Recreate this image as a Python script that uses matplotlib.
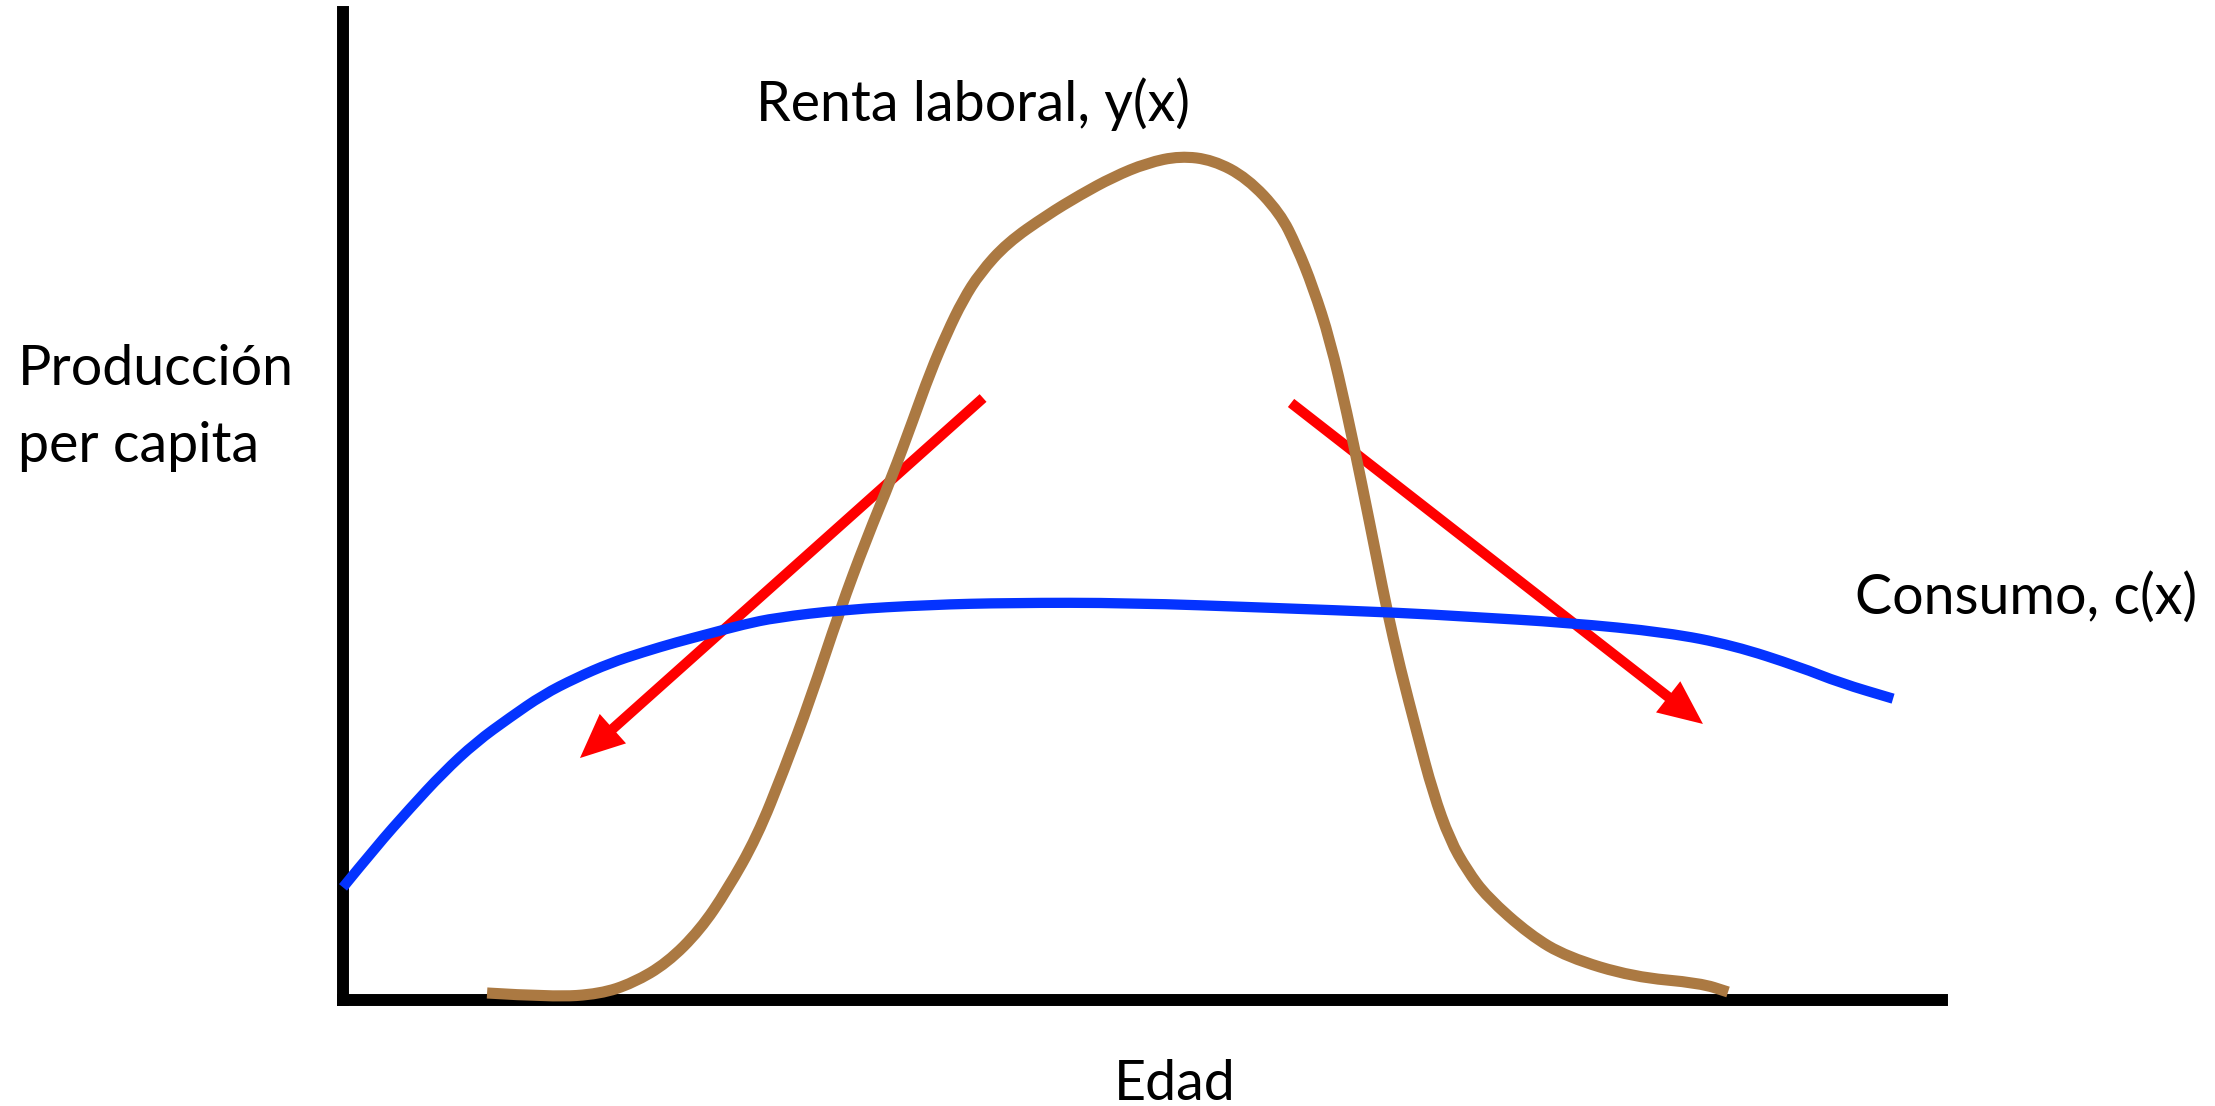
import matplotlib
matplotlib.use("Agg")
import matplotlib.pyplot as plt
from matplotlib.path import Path
from matplotlib.patches import PathPatch

# ---- data (in chart units: age 0-100, output 0-100)
consumo_x = [0.0, 2.06, 4.19, 6.25, 8.32, 10.44, 12.51, 14.57, 16.70, 18.76, 20.83,
             22.95, 25.02, 27.08, 31.27, 36.71, 41.71, 49.22, 57.97, 66.10, 70.29,
             76.55, 82.80, 86.93, 91.12, 93.62, 96.94]
consumo_y = [11.4, 15.5, 19.4, 23.0, 26.1, 28.6, 30.9, 32.6, 34.1, 35.2, 36.2,
             37.1, 38.0, 38.7, 39.5, 40.0, 40.2, 40.2, 39.7, 39.2, 38.8,
             38.2, 37.2, 35.9, 33.7, 32.1, 30.5]

renta_x = [9.01, 13.13, 16.07, 18.14, 20.26, 22.33, 24.02, 25.89, 27.58, 29.21, 31.08,
           32.71, 34.33, 35.65, 36.71, 37.77, 38.77, 39.84, 41.53, 44.03, 46.09,
           48.16, 50.28, 52.35, 54.41, 56.54, 58.60, 59.66, 60.66, 61.73, 62.79,
           63.73, 64.67, 65.29, 66.10, 67.17, 68.17, 69.23, 70.29, 71.54, 74.23,
           76.55, 80.68, 84.87, 86.62]
renta_y = [0.71, 0.30, 0.61, 1.72, 3.74, 7.09, 11.13, 16.50, 23.28, 30.36, 39.47,
           46.56, 52.94, 58.70, 63.46, 67.51, 70.85, 73.58, 76.62, 79.45, 81.48,
           83.30, 84.72, 85.43, 85.02, 83.20, 79.66, 76.21, 72.17, 66.80, 59.41,
           52.13, 44.53, 39.47, 33.70, 27.02, 20.95, 16.19, 13.16, 10.43, 6.58,
           4.35, 2.33, 1.72, 0.81]

# arrows: (start_x, start_y, end_x, end_y)
arrow_left = (40.03, 60.93, 14.82, 24.49)
arrow_right = (59.29, 60.43, 85.05, 27.94)

label_renta = "Renta laboral, y(x)"
label_consumo = "Consumo, c(x)"
label_y = ["Producción", "per capita"]
label_x = "Edad"


def smooth_path(xs, ys):
    """Quadratic-Bezier path through the read points (drawing only)."""
    pts = list(zip(xs, ys))
    verts = [pts[0]]
    codes = [Path.MOVETO]
    for i in range(1, len(pts) - 1):
        mid = ((pts[i][0] + pts[i + 1][0]) / 2, (pts[i][1] + pts[i + 1][1]) / 2)
        verts += [pts[i], mid]
        codes += [Path.CURVE3, Path.CURVE3]
    verts.append(pts[-1])
    codes.append(Path.LINETO)
    return Path(verts, codes)


# ---- figure
W, H = 2215, 1106
fig = plt.figure(figsize=(W / 100, H / 100), dpi=100)
fig.patch.set_facecolor("white")

left_px, right_px, bottom_px, top_px = 343, 1942, 1000, 12
ax = fig.add_axes([left_px / W, (H - bottom_px) / H,
                   (right_px - left_px) / W, (bottom_px - top_px) / H])
ax.set_xlim(0, 100)
ax.set_ylim(0, 100)
ax.set_xticks([])
ax.set_yticks([])
for s in ("top", "right"):
    ax.spines[s].set_visible(False)
for s in ("left", "bottom"):
    ax.spines[s].set_linewidth(8.6)
    ax.spines[s].set_color("black")
ax.spines["left"].set_capstyle("projecting")
ax.patch.set_alpha(0)

red = "#FF0000"
for (x0, y0, x1, y1) in (arrow_left, arrow_right):
    ax.annotate("", xy=(x1, y1), xytext=(x0, y0),
                arrowprops=dict(arrowstyle="-|>,head_length=1.9,head_width=0.85",
                                color=red, lw=7.4, shrinkA=0, shrinkB=0,
                                mutation_scale=10, capstyle="butt", joinstyle="miter"),
                zorder=2)

ax.add_patch(PathPatch(smooth_path(renta_x, renta_y), fill=False, edgecolor="#AB7942",
                       lw=8.0, capstyle="butt", joinstyle="round", zorder=3, clip_on=False))
ax.add_patch(PathPatch(smooth_path(consumo_x, consumo_y), fill=False, edgecolor="#0433FF",
                       lw=7.4, capstyle="butt", joinstyle="round", zorder=4, clip_on=False))

font = dict(family=["Lato", "DejaVu Sans"], fontsize=40, color="black")
fig.text(756 / W, 1 - 121 / H, label_renta, ha="left", va="baseline", **font)
fig.text(1855 / W, 1 - 614 / H, label_consumo, ha="left", va="baseline", **font)
fig.text(18 / W, 1 - 385 / H, label_y[0], ha="left", va="baseline", **font)
fig.text(18 / W, 1 - 462 / H, label_y[1], ha="left", va="baseline", **font)
fig.text(1175 / W, 1 - 1100 / H, label_x, ha="center", va="baseline", **font)

fig.savefig("out.png", dpi=100, facecolor="white")
